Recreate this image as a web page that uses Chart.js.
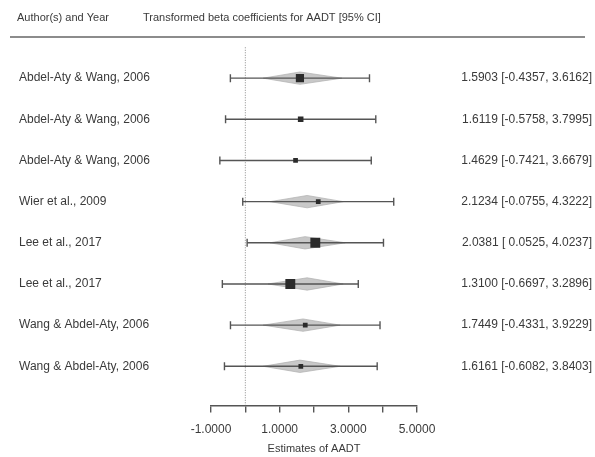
<!DOCTYPE html>
<html>
<head>
<meta charset="utf-8">
<script src="https://cdn.jsdelivr.net/npm/chart.js@4/dist/chart.umd.min.js"></script>
<style>
  html, body { margin: 0; padding: 0; background: #ffffff; }
  #wrap { width: 595px; height: 457px; }
</style>
</head>
<body>
<div id="wrap"><canvas id="forest" width="595" height="457"></canvas></div>
<script>
// Studies included in the meta-analysis (one row each, top to bottom)
const studies = [
  'Abdel-Aty & Wang, 2006',
  'Abdel-Aty & Wang, 2006',
  'Abdel-Aty & Wang, 2006',
  'Wier et al., 2009',
  'Lee et al., 2017',
  'Lee et al., 2017',
  'Wang & Abdel-Aty, 2006',
  'Wang & Abdel-Aty, 2006'
];

// Transformed beta coefficients for AADT with 95% CI
const estimates = [1.5903, 1.6119, 1.4629, 2.1234, 2.0381, 1.3100, 1.7449, 1.6161];
const ciLower   = [-0.4357, -0.5758, -0.7421, -0.0755, 0.0525, -0.6697, -0.4331, -0.6082];
const ciUpper   = [3.6162, 3.7995, 3.6679, 4.3222, 4.0237, 3.2896, 3.9229, 3.8403];

// Relative study weights (drive the size of the square markers)
const weights = [0.8, 0.5, 0.4, 0.4, 1.0, 1.0, 0.4, 0.4];

// Spread of the shaded posterior shape per study (null = not shown)
const densityLow  = [0.52, null, null, 0.72, 0.72, 0.66, 0.52, 0.52];
const densityMode = [1.59, null, null, 1.80, 1.74, 1.80, 1.68, 1.59];
const densityHigh = [2.81, null, null, 2.85, 2.91, 2.85, 2.76, 2.76];

// X-axis range and ticks
const xMin = -1, xMax = 5, xStep = 1;
const labelledTicks = [-1, 1, 3, 5];

const headerLeft = 'Author(s) and Year';
const headerRight = 'Transformed beta coefficients for AADT [95% CI]';
const axisTitle = 'Estimates of AADT';

// ---------------------------------------------------------------
const rowOf = i => i + 1;
const fmtLower = v => (v < 0 ? v.toFixed(4) : ' ' + v.toFixed(4));
const ciText = i => estimates[i].toFixed(4) + ' [' + fmtLower(ciLower[i]) + ', ' + ciUpper[i].toFixed(4) + ']';

const FONT = '"Liberation Sans", Arial, sans-serif';
const TEXT = '#3a3a3a';
const LINE = '#555555';
const SHAPE_HALF = 0.15; // half height of the shaded shape, in row units

const datasets = [];

// shaded shapes
studies.forEach((s, i) => {
  if (densityLow[i] == null) return;
  const r = rowOf(i);
  datasets.push({
    type: 'scatter',
    showLine: true,
    data: [
      { x: densityLow[i], y: r },
      { x: densityMode[i], y: r - SHAPE_HALF },
      { x: densityHigh[i], y: r },
      { x: densityMode[i], y: r + SHAPE_HALF },
      { x: densityLow[i], y: r }
    ],
    borderColor: 'rgba(175,175,175,0.9)',
    borderWidth: 0.8,
    backgroundColor: 'rgba(190,190,190,0.85)',
    fill: 'shape',
    pointRadius: 0,
    order: 3
  });
});

// confidence interval lines
studies.forEach((s, i) => {
  const r = rowOf(i);
  datasets.push({
    type: 'scatter',
    showLine: true,
    data: [{ x: ciLower[i], y: r }, { x: ciUpper[i], y: r }],
    borderColor: LINE,
    borderWidth: 1.4,
    pointRadius: 0,
    order: 2
  });
});

// end caps of the intervals
datasets.push({
  type: 'scatter',
  data: studies.flatMap((s, i) => [{ x: ciLower[i], y: rowOf(i) }, { x: ciUpper[i], y: rowOf(i) }]),
  pointStyle: 'line',
  rotation: 90,
  pointRadius: 4,
  borderColor: LINE,
  borderWidth: 1.4,
  order: 1
});

// point estimates
datasets.push({
  type: 'scatter',
  data: estimates.map((v, i) => ({ x: v, y: rowOf(i) })),
  pointStyle: 'rect',
  pointRadius: weights.map(w => 0.9 + w * 6.1),
  backgroundColor: '#2b2b2b',
  borderColor: '#2b2b2b',
  borderWidth: 0,
  order: 0
});

// reference line at zero
datasets.push({
  type: 'scatter',
  showLine: true,
  data: [{ x: 0, y: 0.25 }, { x: 0, y: 8.95 }],
  borderColor: '#8a8a8a',
  borderWidth: 1,
  borderDash: [1, 1.5],
  pointRadius: 0,
  order: 4
});

// Text columns and header rule
const forestText = {
  id: 'forestText',
  afterDraw(chart) {
    const { ctx } = chart;
    const y = chart.scales.y;
    ctx.save();
    ctx.fillStyle = TEXT;
    ctx.textBaseline = 'middle';

    ctx.font = '11px ' + FONT;
    ctx.textAlign = 'left';
    ctx.fillText(headerLeft, 17, 18);
    ctx.fillText(headerRight, 143, 18);

    const yRule = y.getPixelForValue(0);
    ctx.strokeStyle = '#8c8c8c';
    ctx.lineWidth = 2;
    ctx.beginPath();
    ctx.moveTo(10, yRule);
    ctx.lineTo(585, yRule);
    ctx.stroke();

    ctx.font = '12px ' + FONT;
    studies.forEach((s, i) => {
      const py = y.getPixelForValue(rowOf(i));
      ctx.textAlign = 'left';
      ctx.fillText(s, 19, py);
      ctx.textAlign = 'right';
      ctx.fillText(ciText(i), 592, py);
    });
    ctx.restore();
  }
};

new Chart(document.getElementById('forest'), {
  type: 'scatter',
  data: { datasets },
  plugins: [forestText],
  options: {
    responsive: false,
    animation: false,
    devicePixelRatio: 1,
    layout: { padding: { left: 211, right: 178, top: 37, bottom: 1 } },
    plugins: { legend: { display: false }, tooltip: { enabled: false } },
    scales: {
      x: {
        type: 'linear',
        min: xMin,
        max: xMax,
        grid: { drawOnChartArea: false, drawTicks: true, tickLength: 7, color: LINE, lineWidth: 1.4 },
        border: { display: true, color: LINE, width: 1.4 },
        ticks: {
          stepSize: xStep,
          padding: 10,
          color: TEXT,
          font: { family: FONT, size: 12 },
          maxRotation: 0,
          autoSkip: false,
          callback: v => (labelledTicks.includes(v) ? v.toFixed(4) : '')
        },
        title: {
          display: true,
          text: axisTitle,
          color: TEXT,
          font: { family: FONT, size: 11 },
          padding: { top: -4, bottom: 0 }
        }
      },
      y: {
        type: 'linear',
        display: false,
        reverse: true,
        min: 0,
        max: 8.95
      }
    }
  }
});
</script>
</body>
</html>
